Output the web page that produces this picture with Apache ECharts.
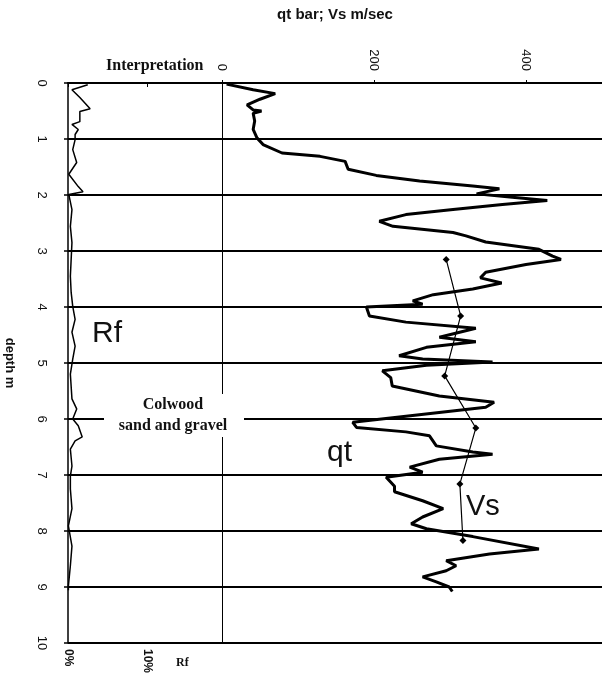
<!DOCTYPE html>
<html>
<head>
<meta charset="utf-8">
<script src="https://cdn.jsdelivr.net/npm/echarts@6/dist/echarts.min.js"></script>
<style>html,body{margin:0;padding:0;background:#fff}#c{width:602px;height:682px}</style>
</head>
<body>
<div id="c"></div>
<script>
// ---- data ----
var qtDepth = [0.02,0.12,0.19,0.29,0.39,0.48,0.5,0.54,0.68,0.83,0.98,1.1,1.25,1.31,1.4,1.54,1.65,1.75,1.84,1.89,1.98,2.04,2.1,2.17,2.26,2.35,2.47,2.56,2.67,2.73,2.84,2.97,3.09,3.15,3.24,3.38,3.48,3.57,3.68,3.78,3.89,3.95,4.0,4.16,4.27,4.38,4.54,4.62,4.72,4.87,4.93,4.98,5.04,5.14,5.26,5.41,5.59,5.7,5.79,5.95,6.06,6.15,6.23,6.3,6.48,6.59,6.63,6.72,6.86,6.95,7.04,7.2,7.3,7.46,7.6,7.75,7.87,7.96,8.1,8.32,8.41,8.53,8.62,8.71,8.82,8.91,9.0,9.08];
var qtValue = [6,41,70,50,33,41,52,41,43,41,46,54,79,129,162,166,203,260,330,365,335,382,428,369,304,242,207,225,304,321,347,417,435,446,400,347,340,368,330,278,251,264,190,194,242,334,286,334,269,233,264,356,269,211,222,224,286,358,347,242,172,177,242,273,282,330,356,286,247,264,216,227,227,264,291,264,249,269,330,417,352,295,308,295,264,282,299,303];
var vsDepth = [3.15,4.16,5.23,6.16,7.16,8.17];
var vsValue = [295,314,293,334,313,317];
var rfDepth = [0.03,0.12,0.26,0.46,0.51,0.69,0.74,0.83,0.92,1.01,1.19,1.42,1.63,1.85,1.94,1.99,2.26,2.56,2.85,3.15,3.45,3.74,3.99,4.22,4.45,4.7,4.93,5.2,5.64,5.82,6.0,6.12,6.32,6.39,6.54,6.84,7.02,7.25,7.6,7.91,8.27,8.62,8.98,9.06];
var rfValue = [2.5,0.5,1.5,2.8,1.5,1.5,0.5,1.3,0.9,0.9,0.6,1.1,0.1,1.3,1.9,0.1,0.5,0.3,0.5,0.4,0.3,0.4,0.6,0.9,0.5,0.9,0.6,0.3,0.5,1.1,0.6,1.3,1.8,0.9,0.3,0.5,0.3,0.3,0.5,0.05,0.5,0.3,0.05,0.05];
var depthTicks = [0,1,2,3,4,5,6,7,8,9,10];
var qtTicks = [0,200,400];
var rfTicks = [0,10];

function pairs(xs, ys){ var o=[]; for(var i=0;i<xs.length;i++) o.push([xs[i], ys[i]]); return o; }

var chart = echarts.init(document.getElementById('c'), null, {renderer:'canvas'});
var sans = 'Liberation Sans';
var option = {
  animation:false,
  backgroundColor:'#fff',
  grid:[
    {left:68, right:380, top:83, bottom:39},
    {left:222, right:0, top:83, bottom:39}
  ],
  xAxis:[
    {gridIndex:0, type:'value', position:'bottom', min:0, max:19.5, interval:10,
     axisLine:{show:true, lineStyle:{color:'#000', width:2}},
     axisTick:{show:true, inside:false, length:4, lineStyle:{color:'#000'}},
     splitLine:{show:false},
     axisLabel:{rotate:-90, margin:6, color:'#111', fontFamily:sans, fontWeight:'bold', fontSize:12,
       showMaxLabel:false,
       formatter:function(v){ return rfTicks.indexOf(v)>=0 ? v+'%' : ''; }}},
    {gridIndex:1, type:'value', position:'top', min:0, max:500, interval:200,
     axisLine:{show:true, lineStyle:{color:'#000', width:2}},
     axisTick:{show:true, length:3, lineStyle:{color:'#000'}},
     splitLine:{show:false},
     axisLabel:{rotate:-90, margin:12, color:'#111', fontFamily:sans, fontSize:13,
       showMaxLabel:false,
       formatter:function(v){ return qtTicks.indexOf(v)>=0 ? String(v) : ''; }}}
  ],
  yAxis:[
    {gridIndex:0, type:'value', inverse:true, min:0, max:10, interval:1,
     name:'depth m', nameLocation:'middle', nameRotate:-90, nameGap:52,
     nameTextStyle:{fontFamily:sans, fontWeight:'bold', fontSize:13, color:'#111'},
     axisLine:{show:true, lineStyle:{color:'#000', width:1.5}},
     axisTick:{show:true, length:4, lineStyle:{color:'#000', width:1.5}},
     splitLine:{show:true, lineStyle:{color:'#000', width:2}},
     axisLabel:{rotate:-90, margin:20, color:'#111', fontFamily:sans, fontSize:13,
       formatter:function(v){ return depthTicks.indexOf(v)>=0 ? String(v) : ''; }}},
    {gridIndex:1, type:'value', inverse:true, min:0, max:10, interval:1,
     axisLine:{show:true, lineStyle:{color:'#000', width:1}},
     axisTick:{show:false},
     axisLabel:{show:false},
     splitLine:{show:true, lineStyle:{color:'#000', width:2}}}
  ],
  series:[
    {name:'Rf', type:'line', xAxisIndex:0, yAxisIndex:0, data:pairs(rfValue, rfDepth),
     showSymbol:false, symbol:'none', lineStyle:{color:'#000', width:1.5}, z:3},
    {name:'qt', type:'line', xAxisIndex:1, yAxisIndex:1, data:pairs(qtValue, qtDepth),
     showSymbol:false, symbol:'none', lineStyle:{color:'#000', width:3}, z:3},
    {name:'Vs', type:'line', xAxisIndex:1, yAxisIndex:1, data:pairs(vsValue, vsDepth),
     symbol:'diamond', symbolSize:7, itemStyle:{color:'#000'}, lineStyle:{color:'#000', width:1.2}, z:4}
  ],
  graphic:[
    {type:'text', x:335, y:15, z:100, style:{text:'qt bar; Vs m/sec', fill:'#111', font:'bold 15px "Liberation Sans"', textAlign:'center', textVerticalAlign:'middle'}},
    {type:'text', x:106, y:66, z:100, style:{text:'Interpretation', fill:'#111', font:'bold 16px "Liberation Serif"', textAlign:'left', textVerticalAlign:'middle'}},
    {type:'text', x:92, y:334, z:100, style:{text:'Rf', fill:'#111', font:'30px "Liberation Sans"', textAlign:'left', textVerticalAlign:'middle'}},
    {type:'rect', shape:{x:104, y:394, width:140, height:43}, z:99, style:{fill:'#fff'}},
    {type:'text', x:173, y:405, z:100, style:{text:'Colwood', fill:'#111', font:'bold 16px "Liberation Serif"', textAlign:'center', textVerticalAlign:'middle'}},
    {type:'text', x:173, y:426, z:100, style:{text:'sand and gravel', fill:'#111', font:'bold 16px "Liberation Serif"', textAlign:'center', textVerticalAlign:'middle'}},
    {type:'text', x:327, y:453, z:100, style:{text:'qt', fill:'#111', font:'30px "Liberation Sans"', textAlign:'left', textVerticalAlign:'middle'}},
    {type:'text', x:466, y:507, z:100, style:{text:'Vs', fill:'#111', font:'29px "Liberation Sans"', textAlign:'left', textVerticalAlign:'middle'}},
    {type:'text', x:176, y:663, z:100, style:{text:'Rf', fill:'#111', font:'bold 12px "Liberation Serif"', textAlign:'left', textVerticalAlign:'middle'}}
  ]
};
chart.setOption(option);
</script>
</body>
</html>
